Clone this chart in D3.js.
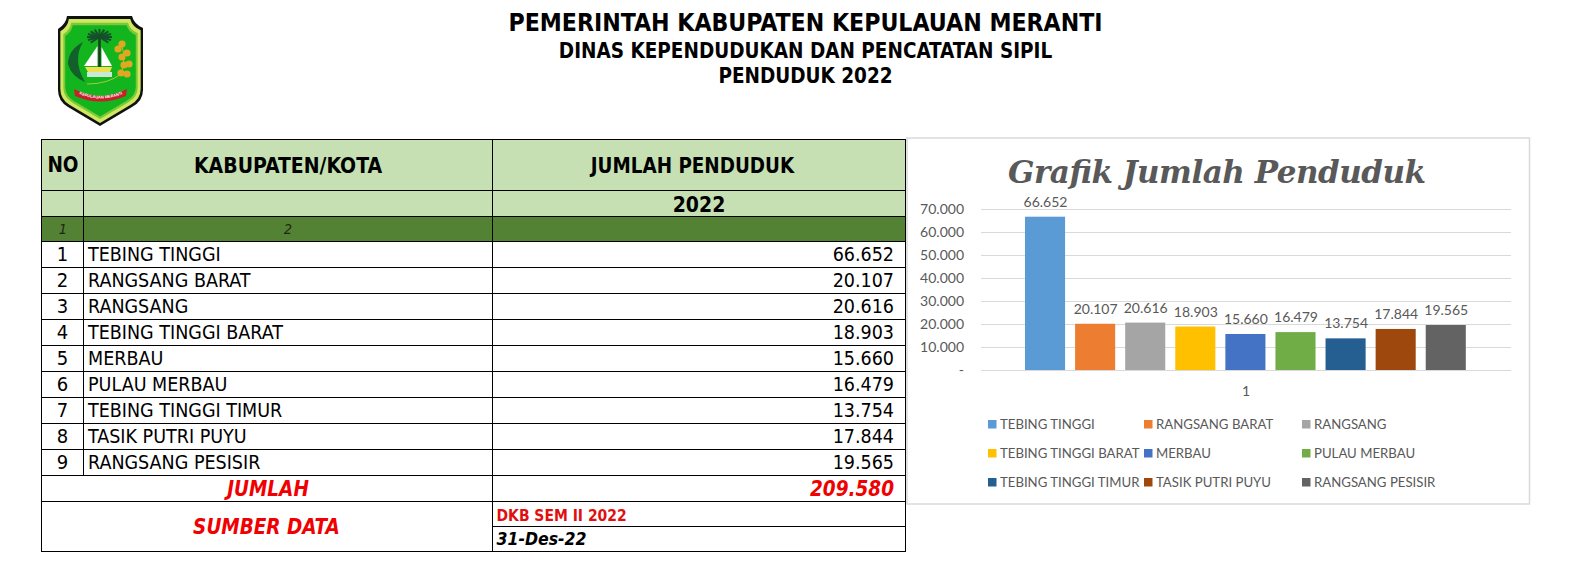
<!DOCTYPE html>
<html>
<head>
<meta charset="utf-8">
<title>Penduduk 2022</title>
<script src="https://cdn.jsdelivr.net/npm/d3@7"></script>
<style>
    html, body { margin: 0; padding: 0; background: #fff; }
    svg { display: block; }
    .sheet text { font-family: "DejaVu Sans Condensed", "DejaVu Sans", sans-serif; fill: #000; }
    .chart text { font-family: Lato, "Open Sans", sans-serif; fill: #595959; }
</style>
</head>
<body>
<svg id="page" width="1577" height="573"></svg>
<script>
// Data
const regions = ['TEBING TINGGI', 'RANGSANG BARAT', 'RANGSANG', 'TEBING TINGGI BARAT', 'MERBAU',
    'PULAU MERBAU', 'TEBING TINGGI TIMUR', 'TASIK PUTRI PUYU', 'RANGSANG PESISIR'];
const population = [66652, 20107, 20616, 18903, 15660, 16479, 13754, 17844, 19565];
const seriesColors = ['#5b9bd5', '#ed7d31', '#a5a5a5', '#ffc000', '#4472c4', '#70ad47', '#255e91', '#9e480e', '#636363'];
const yTicks = [0, 10000, 20000, 30000, 40000, 50000, 60000, 70000];
const categories = ['1'];
const total = 209580;

const headings = ['PEMERINTAH KABUPATEN KEPULAUAN MERANTI', 'DINAS KEPENDUDUKAN DAN PENCATATAN SIPIL', 'PENDUDUK 2022'];
const chartTitle = 'Grafik Jumlah Penduduk';

const idFormat = d3.formatLocale({ decimal: ',', thousands: '.', grouping: [3], currency: ['', ''] });
const fmt = idFormat.format(',d');

const svg = d3.select('#page');

drawHeading();
drawEmblem();
drawTable();
drawChart();

function drawHeading() {
    const g = svg.append('g').attr('class', 'sheet');
    const sizes = [24.6, 20.5, 20.5];
    const ys = [22, 51, 76];
    g.selectAll('text').data(headings).join('text')
        .attr('x', 805.5)
        .attr('y', (d, i) => ys[i])
        .attr('dy', '0.36em')
        .attr('text-anchor', 'middle')
        .attr('font-weight', 'bold')
        .attr('font-size', (d, i) => sizes[i])
        .text(d => d);
}

// Kabupaten emblem, rough vector copy of the logo
function drawEmblem() {
    const g = svg.append('g').attr('class', 'emblem');
    const shield = 'M67,16 L132,16 Q134,24 143,28 L143,90 Q143,101 132,107 L100,126 L68,107 Q58,101 58,90 L58,29 Q66,24 67,16 Z';
    const scaled = (k, fill) => g.append('path')
        .attr('d', shield)
        .attr('fill', fill)
        .attr('transform', `translate(100.5,70) scale(${k}) translate(-100.5,-70)`);
    scaled(1, '#111');
    scaled(0.945, '#d0e860');
    scaled(0.875, '#7cc838');
    scaled(0.83, '#12b51e');

    // leaf on the left
    g.append('path').attr('d', 'M83,42 Q68,50 68,64 Q71,76 85,82 Q78,70 78,60 Q78,50 83,42 Z').attr('fill', '#14602a');

    // palm
    g.append('line').attr('x1', 99.5).attr('y1', 38).attr('x2', 99.5).attr('y2', 67)
        .attr('stroke', '#1c3d1c').attr('stroke-width', 2.5);
    d3.range(-2, 11).forEach(i => {
        const a = Math.PI * (i / 8) + Math.PI;
        g.append('line')
            .attr('x1', 99.5).attr('y1', 37)
            .attr('x2', 99.5 + 12.5 * Math.cos(a)).attr('y2', 37 + 8 * Math.sin(a))
            .attr('stroke', '#14502a').attr('stroke-width', 2);
    });

    // boat
    g.append('path').attr('d', 'M97.5,46 L84,66 L97.5,66 Z').attr('fill', '#fff');
    g.append('path').attr('d', 'M101.5,47 L101.5,66 L112,66 Z').attr('fill', '#fff');
    g.append('path').attr('d', 'M85,67 L112,67 L110,72 L88,72 Z').attr('fill', '#f0e050');
    g.append('rect').attr('x', 87).attr('y', 72).attr('width', 25).attr('height', 5).attr('fill', '#c8e8d8');

    // fruit branch on the right
    g.append('path').attr('d', 'M87,84 Q108,84 121,74 Q126,60 122,46').attr('fill', 'none')
        .attr('stroke', '#a8c838').attr('stroke-width', 1);
    const fruit = [[122, 44], [118, 49], [127, 53], [122, 57], [124, 65], [129, 64], [121, 73], [127, 74]];
    g.selectAll('circle').data(fruit).join('circle')
        .attr('cx', d => d[0]).attr('cy', d => d[1]).attr('r', 3.6).attr('fill', '#e0a820');

    // ribbon
    g.append('path').attr('d', 'M74,89 Q100,103 127,89 L126,96 Q100,107 75,96 Z').attr('fill', '#c8202a');
    g.append('path').attr('id', 'ribbonArc').attr('d', 'M77,93 Q100,104 125,93').attr('fill', 'none');
    g.append('text')
        .attr('font-family', 'Liberation Sans').attr('font-size', 4).attr('font-weight', 'bold').attr('fill', '#fff')
        .append('textPath').attr('href', '#ribbonArc').attr('startOffset', '50%').attr('text-anchor', 'middle')
        .text('KEPULAUAN MERANTI');
}

function drawTable() {
    const g = svg.append('g').attr('class', 'sheet');
    const xNo = 41, xName = 83, xValue = 492.5, xEnd = 905.5;
    const yTop = 139, yH1 = 190, yH2 = 216, yH3 = 241, yRows = 475, yTotal = 501, ySrc = 526, yEnd = 551;
    const rowY = d3.scaleBand().domain(regions).range([yH3, yRows]);

    // fills
    g.append('rect').attr('x', xNo).attr('y', yTop).attr('width', xEnd - xNo).attr('height', yH2 - yTop).attr('fill', '#c6e0b4');
    g.append('rect').attr('x', xNo).attr('y', yH2).attr('width', xEnd - xNo).attr('height', yH3 - yH2).attr('fill', '#548235');

    // borders
    const hLines = [yTop, yH1, yH2, yH3, ...regions.map(r => rowY(r) + rowY.bandwidth()), yTotal, yEnd];
    g.selectAll('line.h').data(hLines).join('line').attr('class', 'h')
        .attr('x1', xNo).attr('x2', xEnd).attr('y1', d => d).attr('y2', d => d);
    g.append('line').attr('x1', xValue).attr('x2', xEnd).attr('y1', ySrc).attr('y2', ySrc);
    g.append('line').attr('x1', xNo).attr('x2', xNo).attr('y1', yTop).attr('y2', yEnd);
    g.append('line').attr('x1', xName).attr('x2', xName).attr('y1', yTop).attr('y2', yRows);
    g.append('line').attr('x1', xValue).attr('x2', xValue).attr('y1', yTop).attr('y2', yEnd);
    g.append('line').attr('x1', xEnd).attr('x2', xEnd).attr('y1', yTop).attr('y2', yEnd);
    g.selectAll('line').attr('stroke', '#000').attr('stroke-width', 1).attr('shape-rendering', 'crispEdges');

    const label = (text, x, y, size, opts = {}) => g.append('text')
        .attr('x', x).attr('y', y).attr('dy', '0.36em')
        .attr('text-anchor', opts.anchor || 'middle')
        .attr('font-size', size)
        .attr('font-weight', opts.bold ? 'bold' : 'normal')
        .attr('font-style', opts.italic ? 'italic' : 'normal')
        .style('fill', opts.fill || '#000')
        .text(text);

    label('NO', 63, 165, 20.5, { bold: true });
    label('KABUPATEN/KOTA', 288, 165, 21, { bold: true });
    label('JUMLAH PENDUDUK', 692.5, 166, 20.4, { bold: true });
    label('2022', 699, 204, 21, { bold: true });
    label('1', 63, 229, 14.5, { italic: true, fill: '#1a2a10' });
    label('2', 288, 229, 14.5, { italic: true, fill: '#1a2a10' });

    regions.forEach((r, i) => {
        const y = rowY(r) + rowY.bandwidth() / 2;
        label(i + 1, 62.5, y, 20);
        label(r, 88, y, 19.5, { anchor: 'start' });
        label(fmt(population[i]), 894, y, 19.5, { anchor: 'end' });
    });

    label('JUMLAH', 268, 489, 20.5, { bold: true, italic: true, fill: '#f00000' });
    label(fmt(total), 894, 489, 20.5, { anchor: 'end', bold: true, italic: true, fill: '#f00000' });
    label('SUMBER DATA', 266.5, 527, 20.5, { bold: true, italic: true, fill: '#f00000' });
    label('DKB SEM II 2022', 496.5, 515, 15.5, { anchor: 'start', bold: true, fill: '#e01010' });
    label('31-Des-22', 496.5, 539, 17.5, { anchor: 'start', bold: true, italic: true });
}

function drawChart() {
    const g = svg.append('g').attr('class', 'chart');
    const left = 981, right = 1511, top = 209, base = 370;

    g.append('rect')
        .attr('x', 907).attr('y', 138).attr('width', 622.5).attr('height', 366)
        .attr('fill', '#fff').attr('stroke', '#d9d9d9').attr('stroke-width', 1.5);

    g.append('text')
        .attr('x', 1217).attr('y', 172).attr('dy', '0.36em')
        .attr('text-anchor', 'middle')
        .attr('textLength', 418).attr('lengthAdjust', 'spacing')
        .style('font-family', '"DejaVu Serif", serif')
        .attr('font-size', 31).attr('font-weight', 'bold').attr('font-style', 'italic')
        .text(chartTitle);

    const y = d3.scaleLinear().domain([0, 70000]).range([base, top]);
    const x = d3.scaleBand().domain(regions).range([1025, 1465.8]).paddingInner(0.2);
    const x0 = d3.scaleBand().domain(categories).range([left, right]);

    const yAxis = g.append('g')
        .attr('transform', `translate(${left},0)`)
        .call(d3.axisLeft(y).tickValues(yTicks).tickSize(-(right - left)).tickPadding(17)
            .tickFormat(d => d === 0 ? '-' : fmt(d)));
    yAxis.select('.domain').remove();
    yAxis.selectAll('.tick line').attr('stroke', '#d9d9d9');
    yAxis.selectAll('.tick text').attr('font-size', 14);

    const xAxis = g.append('g')
        .attr('transform', `translate(0,${base})`)
        .call(d3.axisBottom(x0).tickSize(0).tickPadding(16));
    xAxis.select('.domain').remove();
    xAxis.selectAll('.tick text').attr('font-size', 14);

    g.selectAll('rect.bar').data(regions).join('rect').attr('class', 'bar')
        .attr('x', d => x(d))
        .attr('y', (d, i) => y(population[i]))
        .attr('width', x.bandwidth())
        .attr('height', (d, i) => base - y(population[i]))
        .attr('fill', (d, i) => seriesColors[i]);

    g.selectAll('text.value').data(regions).join('text').attr('class', 'value')
        .attr('x', d => x(d) + x.bandwidth() / 2 + 0.5)
        .attr('y', (d, i) => y(population[i]) - 15)
        .attr('dy', '0.36em')
        .attr('text-anchor', 'middle')
        .attr('font-size', 14)
        .text((d, i) => fmt(population[i]));

    // legend, 3 columns by 3 rows
    const legendX = [988, 1144, 1302];
    const legendY = [424, 453, 482];
    const item = g.selectAll('g.legend').data(regions).join('g').attr('class', 'legend')
        .attr('transform', (d, i) => `translate(${legendX[i % 3]},${legendY[Math.floor(i / 3)]})`);
    item.append('rect').attr('x', 0).attr('y', -4).attr('width', 8.5).attr('height', 8.5)
        .attr('fill', (d, i) => seriesColors[i]);
    item.append('text').attr('x', 12).attr('y', 0).attr('dy', '0.36em')
        .attr('font-size', 13.2).text(d => d);
}
</script>
</body>
</html>
